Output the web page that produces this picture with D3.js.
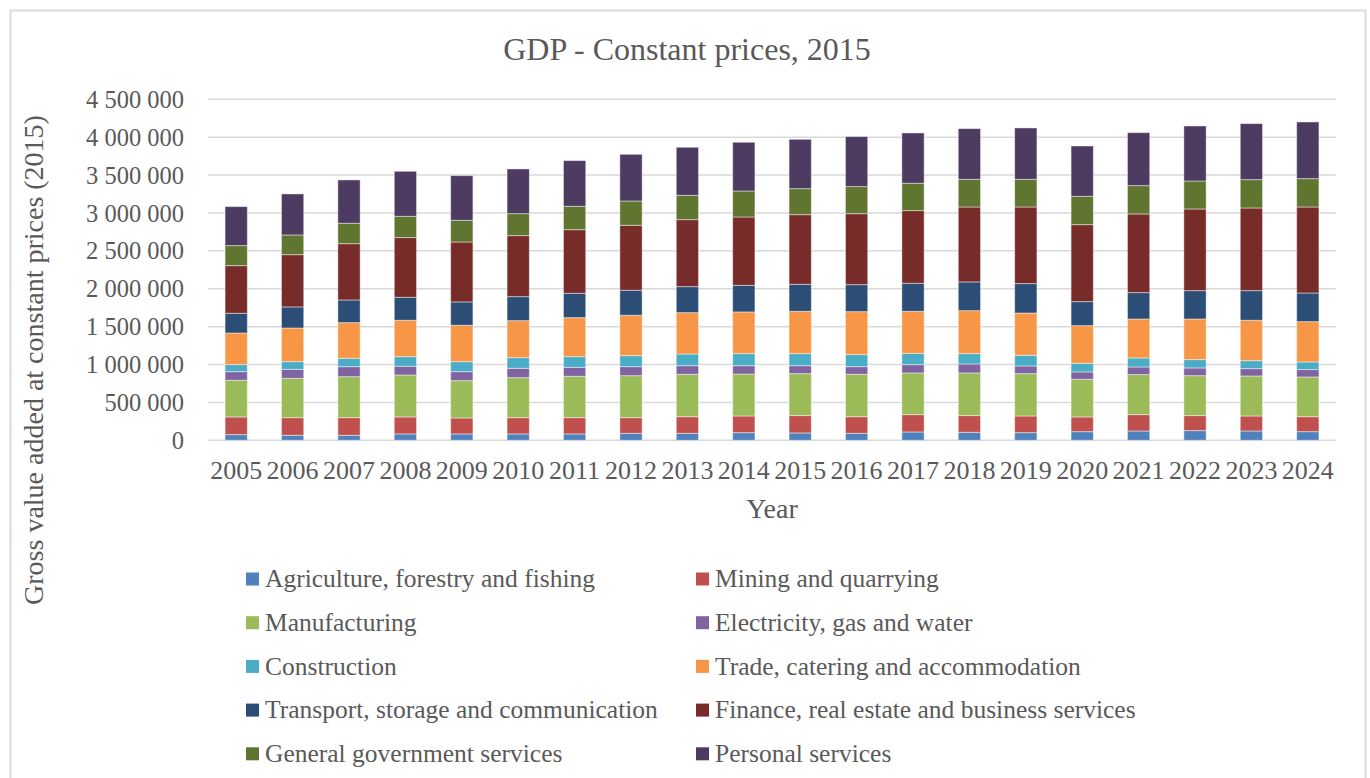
<!DOCTYPE html>
<html>
<head>
<meta charset="utf-8">
<script src="https://cdn.jsdelivr.net/npm/d3@7/dist/d3.min.js"></script>
<style>
  html, body { margin: 0; padding: 0; background: #ffffff; }
  svg { display: block; }
  text { fill: #595959; }
</style>
</head>
<body>
<svg id="chart" width="1370" height="778"></svg>
<script>
// Gross value added by industry, constant 2015 prices
const years = ["2005","2006","2007","2008","2009","2010","2011","2012","2013","2014",
               "2015","2016","2017","2018","2019","2020","2021","2022","2023","2024"];

const agriculture   = [75000,66000,66000,84000,84000,84000,84000,92000,92000,101000,97000,92000,110000,106000,101000,114000,123000,128000,123000,114000];
const mining        = [233000,233000,233000,224000,211000,215000,215000,207000,220000,220000,229000,220000,229000,220000,220000,194000,216000,198000,198000,198000];
const manufacturing = [484000,519000,541000,554000,492000,528000,546000,554000,559000,554000,554000,559000,550000,563000,559000,497000,528000,527000,528000,524000];
const electricity   = [114000,119000,132000,115000,119000,123000,118000,119000,114000,110000,105000,101000,110000,118000,101000,97000,101000,102000,97000,97000];
const construction  = [93000,101000,110000,127000,132000,141000,141000,145000,154000,159000,159000,159000,149000,137000,141000,114000,119000,110000,105000,101000];
const trade         = [417000,444000,471000,480000,480000,488000,515000,533000,546000,550000,558000,567000,554000,567000,558000,497000,514000,536000,533000,532000];
const transport     = [260000,278000,299000,303000,308000,317000,321000,330000,343000,351000,357000,356000,370000,379000,388000,317000,348000,374000,391000,378000];
const finance       = [629000,690000,743000,788000,791000,805000,840000,857000,884000,902000,919000,937000,959000,989000,1011000,1016000,1038000,1078000,1091000,1135000];
const government    = [264000,260000,269000,281000,286000,290000,308000,321000,321000,343000,343000,357000,361000,365000,365000,374000,374000,369000,374000,374000];
const personal      = [515000,541000,572000,594000,590000,590000,603000,616000,634000,643000,651000,660000,664000,669000,678000,664000,699000,726000,739000,748000];

const seriesNames = [
  "Agriculture, forestry and fishing", "Mining and quarrying",
  "Manufacturing", "Electricity, gas and water",
  "Construction", "Trade, catering and accommodation",
  "Transport, storage and communication", "Finance, real estate and business services",
  "General government services", "Personal services"
];
const seriesValues = [agriculture, mining, manufacturing, electricity, construction,
                      trade, transport, finance, government, personal];
const seriesColors = ["#4F81BD","#C0504D","#9BBB59","#8064A2","#4BACC6",
                      "#F79646","#2C4D75","#772C2A","#5F7530","#4D3B62"];

const yTicks = [0,500000,1000000,1500000,2000000,2500000,3000000,3500000,4000000,4500000];

const title = "GDP - Constant prices, 2015";
const xTitle = "Year";
const yTitle = "Gross value added at constant prices (2015)";

// Rows for d3.stack
const keys = seriesNames;
const rows = years.map((y, i) => {
  const r = { year: y };
  keys.forEach((k, j) => { r[k] = seriesValues[j][i]; });
  return r;
});
const stacked = d3.stack().keys(keys)(rows);

const svg = d3.select("#chart");
const serif = "'Liberation Serif', 'Times New Roman', serif";

// Outer chart frame
svg.append("rect")
  .attr("x", 10.5).attr("y", 10.5)
  .attr("width", 1355).attr("height", 800)
  .attr("fill", "none").attr("stroke", "#d9d9d9").attr("stroke-width", 2);

const plot = { left: 208, right: 1336, top: 99.3, bottom: 440.3 };

const x = d3.scaleBand().domain(years).range([plot.left, plot.right]).padding(0);
const y = d3.scaleLinear().domain([0, 4500000]).range([plot.bottom, plot.top]);
const barW = x.bandwidth() * 0.395;

// Gridlines
svg.append("g")
  .selectAll("line").data(yTicks).join("line")
  .attr("x1", plot.left).attr("x2", plot.right)
  .attr("y1", d => y(d)).attr("y2", d => y(d))
  .attr("stroke", "#d9d9d9").attr("stroke-width", 1.5);

// Y axis labels (space as thousands separator)
const fmt = d => d3.format(",")(d).replace(/,/g, " ");
const yAxis = d3.axisLeft(y).tickValues(yTicks).tickFormat(fmt).tickSize(0).tickPadding(0);
const gy = svg.append("g").attr("transform", `translate(184,0)`).call(yAxis);
gy.select(".domain").remove();
gy.selectAll("text")
  .attr("font-family", serif).attr("font-size", 24.5).attr("fill", "#595959")
  .attr("dy", "0.33em");

// X axis labels
const xAxis = d3.axisBottom(x).tickSize(0).tickPadding(0);
const gx = svg.append("g").attr("transform", `translate(0,479)`).call(xAxis);
gx.select(".domain").remove();
gx.selectAll("text")
  .attr("font-family", serif).attr("font-size", 26).attr("fill", "#595959")
  .attr("y", 0).attr("dy", 0);

// Stacked bars
svg.append("g")
  .selectAll("g").data(stacked).join("g")
  .attr("fill", (d, i) => seriesColors[i])
  .selectAll("rect").data(d => d).join("rect")
  .attr("x", d => x(d.data.year) + (x.bandwidth() - barW) / 2)
  .attr("width", barW)
  .attr("y", d => y(d[1]))
  .attr("height", d => y(d[0]) - y(d[1]))
  .attr("stroke", "#ffffff").attr("stroke-opacity", 0.45).attr("stroke-width", 1);

// Title
svg.append("text")
  .attr("x", 687).attr("y", 59.5)
  .attr("text-anchor", "middle")
  .attr("font-family", serif).attr("font-size", 32)
  .text(title);

// Axis titles
svg.append("text")
  .attr("x", (plot.left + plot.right) / 2).attr("y", 518)
  .attr("text-anchor", "middle")
  .attr("font-family", serif).attr("font-size", 28)
  .text(xTitle);

svg.append("text")
  .attr("transform", "translate(43,360) rotate(-90)")
  .attr("text-anchor", "middle")
  .attr("font-family", serif).attr("font-size", 28)
  .text(yTitle);

// Legend: two columns, five rows
const legend = svg.append("g");
const colX = [246, 696];
const rowY0 = 579, rowStep = 43.7;
const items = legend.selectAll("g").data(seriesNames).join("g")
  .attr("transform", (d, i) => `translate(${colX[i % 2]},${rowY0 + Math.floor(i / 2) * rowStep})`);
items.append("rect")
  .attr("x", 0).attr("y", -6.5).attr("width", 13).attr("height", 13)
  .attr("fill", (d, i) => seriesColors[i]);
items.append("text")
  .attr("x", 19).attr("y", 0).attr("dy", "0.32em")
  .attr("font-family", serif).attr("font-size", 25.5)
  .text(d => d);
</script>
</body>
</html>
